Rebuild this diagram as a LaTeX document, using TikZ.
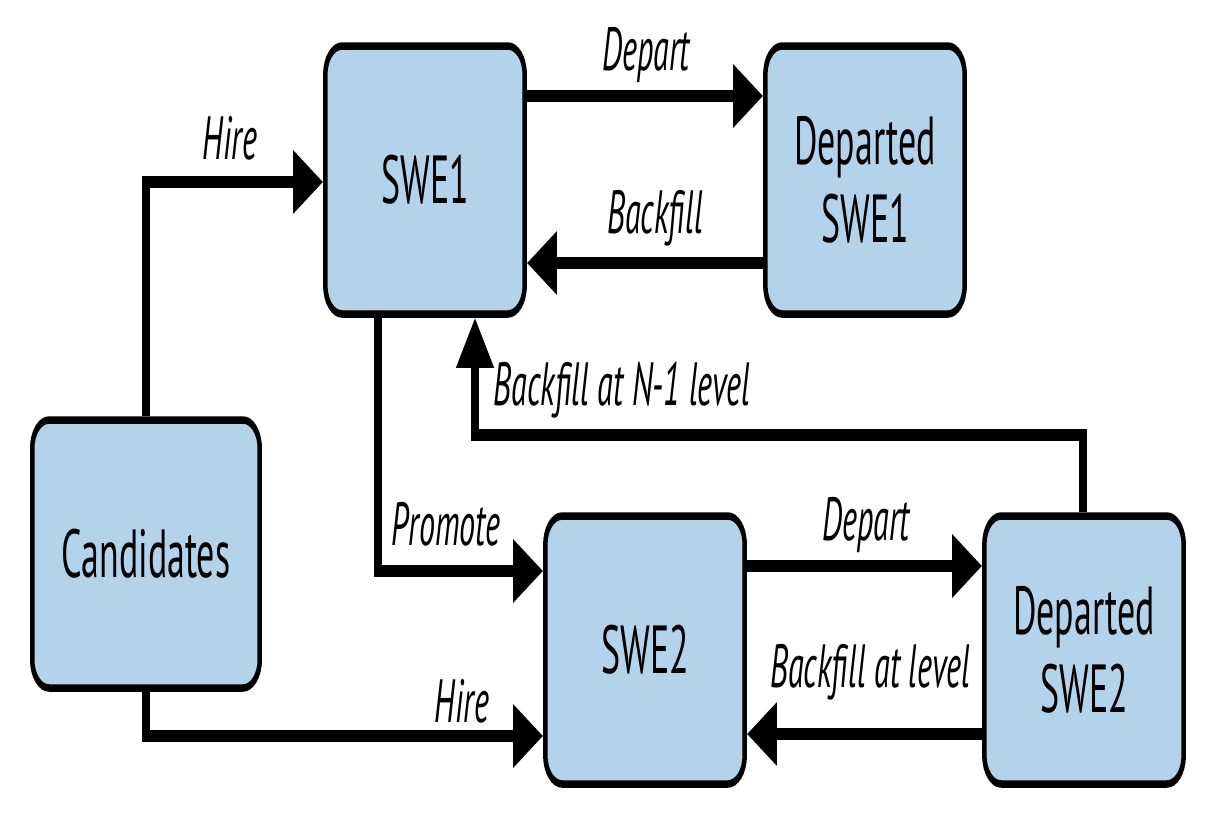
\documentclass[tikz,border=0pt]{standalone}
\usepackage{fontspec}
\setmainfont{PT Sans}[FakeStretch=0.88]
\usetikzlibrary{arrows.meta}
\definecolor{boxblue}{HTML}{B3D3EB}
\tikzset{
  statebox/.style={draw, line width=7.5pt, rounded corners=28pt, fill=boxblue,
    minimum width=332pt, minimum height=268pt, align=center, inner sep=0pt,
    font=\fontsize{68}{78}\selectfont},
  flow/.style={line width=12.5pt, -{Triangle[length=50pt,width=60pt]}},
  lbl/.style={anchor=base, inner sep=0pt, font=\fontsize{61}{70}\selectfont\itshape}
}
\begin{document}
\begin{tikzpicture}[x=1pt, y=-1pt]
    \useasboundingbox (0,0) rectangle (1216,815);
    \begin{scope}[transform canvas={xscale=0.6}, x=1.6667pt]
    % States
    \node[statebox] (swe1) at (425,180) {SWE1};
    \node[statebox] (dep1) at (865,180) {Departed\\SWE1};
    \node[statebox, minimum width=379pt] (cand) at (146,554) {Candidates};
    \node[statebox] (swe2) at (645,650) {SWE2};
    \node[statebox] (dep2) at (1084,650) {Departed\\SWE2};

    % Transitions
    \draw[flow] (cand.north) |- (swe1.west |- 0,182);
    \draw[flow] (cand.south) |- (swe2.west |- 0,736);
    \draw[flow] (378,0 |- swe1.south) |- (swe2.west |- 0,571);
    \draw[flow] (swe1.east |- 0,96) -- (dep1.west |- 0,96);
    \draw[flow] (dep1.west |- 0,263) -- (swe1.east |- 0,263);
    \draw[flow] (swe2.east |- 0,566) -- (dep2.west |- 0,566);
    \draw[flow] (dep2.west |- 0,734) -- (swe2.east |- 0,734);
    \draw[flow] (1083,0 |- dep2.north) |- (475,435) -- (475,0 |- swe1.south);

    % Labels
    \node[lbl] (hire1) at (230,159) {Hire};
    \node[lbl] (depart1) at (646,70) {Depart};
    \node[lbl] (backfill1) at (655,233) {Backfill};
    \node[lbl] (backfilln) at (622,405) {Backfill at N-1 level};
    \node[lbl] (promote) at (446,545) {Promote};
    \node[lbl] (depart2) at (866,540) {Depart};
    \node[lbl] (backfill2) at (870,687) {Backfill at level};
    \node[lbl] (hire2) at (462,722) {Hire};
    \end{scope}
\end{tikzpicture}
\end{document}
